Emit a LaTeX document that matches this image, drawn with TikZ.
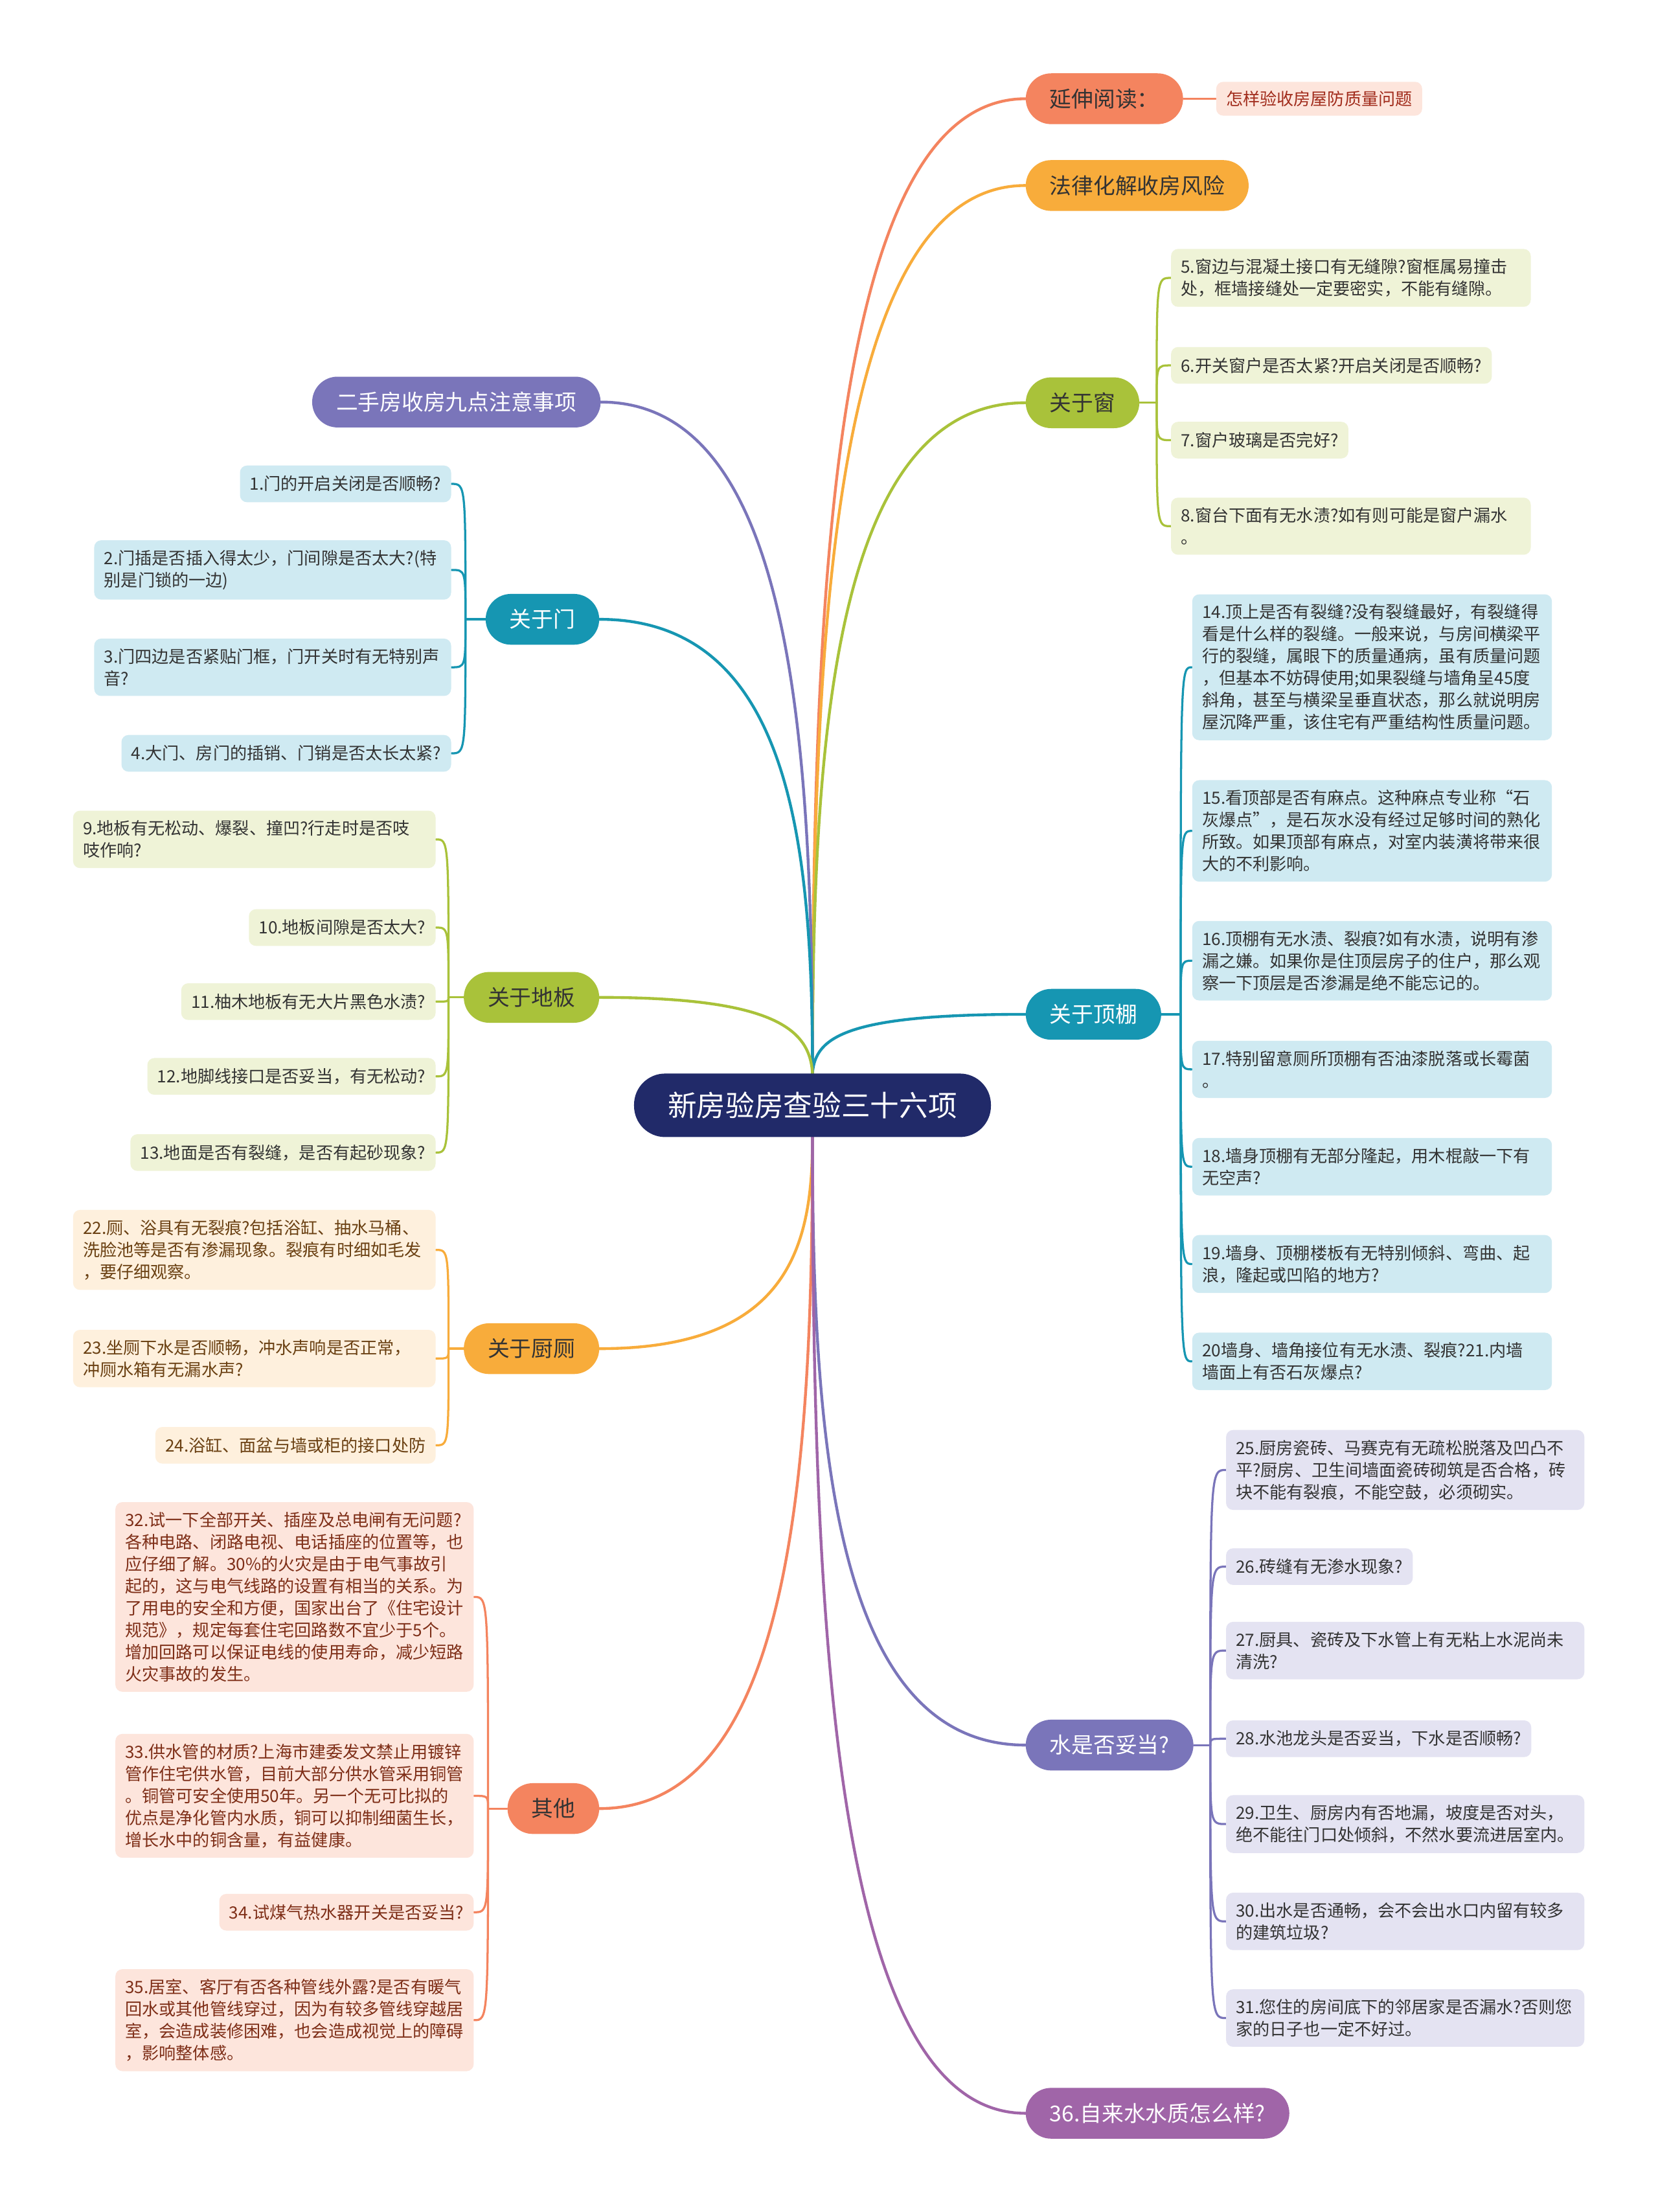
\documentclass[tikz,border=0pt]{standalone}
\usepackage{fontspec}
\setmainfont{Noto Sans CJK SC}
\usetikzlibrary{calc}
\definecolor{cNavy}{HTML}{212A69}
\definecolor{cCoral}{HTML}{F4845F}
\definecolor{cOrange}{HTML}{F8AC3B}
\definecolor{cGreen}{HTML}{A9C23A}
\definecolor{cTeal}{HTML}{1696B2}
\definecolor{cSlate}{HTML}{7A75BA}
\definecolor{cPurple}{HTML}{A065A8}
\definecolor{fGreen}{HTML}{EFF3D7}
\definecolor{fBlue}{HTML}{CFEAF2}
\definecolor{fLav}{HTML}{E4E3F2}
\definecolor{fPeach}{HTML}{FEF0DD}
\definecolor{fPink}{HTML}{FDE5DC}
\definecolor{tDark}{HTML}{333333}
\definecolor{tRed}{HTML}{7E2E17}
\definecolor{tBrown}{HTML}{6A4012}
\definecolor{tLink}{HTML}{A12C1C}
\pgfdeclarelayer{back}
\pgfdeclarelayer{conn}
\pgfsetlayers{back,conn,main}
\tikzset{
  leaf/.style={font=\fontsize{12}{15.6}\selectfont, align=left, rounded corners=5pt,
    inner xsep=7pt, inner ysep=7pt, minimum height=26pt, text=tDark},
  lfG/.style={leaf, fill=fGreen},
  lfB/.style={leaf, fill=fBlue},
  lfL/.style={leaf, fill=fLav},
  lfP/.style={leaf, fill=fPeach, text=tBrown},
  lfK/.style={leaf, fill=fPink, text=tRed},
  tw/.style={text width=#1pt},
  branch/.style={font=\fontsize{15.5}{18}\selectfont, rounded corners=18pt,
    minimum height=36pt, inner xsep=17pt, inner ysep=0pt},
  root/.style={font=\fontsize{20.5}{24}\selectfont, rounded corners=22pt, fill=cNavy,
    text=white, minimum height=45pt, inner xsep=24pt, inner ysep=0pt},
  mainline/.style={line width=2pt, line cap=round},
  kidline/.style={line width=1.5pt, line cap=round},
}
\begin{document}
\begin{tikzpicture}[x=1pt,y=-1pt]
\begin{pgfonlayer}{back}
\fill[white] (0,0) rectangle (1175,1568);
\end{pgfonlayer}
\useasboundingbox (0,0) rectangle (1175,1568);

% root
\node[root] (root) at (576,783.5) {新房验房查验三十六项};

% right branches
\node[branch, fill=cCoral, text=tDark, anchor=west] (ext) at (727,70) {延伸阅读：};
\node[branch, fill=cOrange, text=tDark, anchor=west] (law) at (727,131.5) {法律化解收房风险};
\node[branch, fill=cGreen, text=tDark, anchor=west] (win) at (727,285.5) {关于窗};
\node[branch, fill=cTeal, text=white, anchor=west] (ceil) at (727,719) {关于顶棚};
\node[branch, fill=cSlate, text=white, anchor=west] (water) at (727,1237) {水是否妥当?};
\node[branch, fill=cPurple, text=white, anchor=west] (tap) at (727,1498) {36.自来水水质怎么样?};

% left branches
\node[branch, fill=cSlate, text=white, anchor=east] (second) at (426,285) {二手房收房九点注意事项};
\node[branch, fill=cTeal, text=white, anchor=east] (door) at (425,439) {关于门};
\node[branch, fill=cGreen, text=tDark, anchor=east] (floor) at (425,707) {关于地板};
\node[branch, fill=cOrange, text=tDark, anchor=east] (wc) at (425,956) {关于厨厕};
\node[branch, fill=cCoral, text=tDark, anchor=east] (misc) at (425,1282) {其他};

% extended reading leaf
\node[leaf, fill=fPink, text=tLink, anchor=west, minimum height=24pt, inner ysep=5pt] (extl) at (862,70) {怎样验收房屋防质量问题};

% window leaves
\node[lfG, tw=241, anchor=west] (w5) at (830,197) {5.窗边与混凝土接口有无缝隙?窗框属易撞击\\处，框墙接缝处一定要密实，不能有缝隙。};
\node[lfG, anchor=west] (w6) at (830,259) {6.开关窗户是否太紧?开启关闭是否顺畅?};
\node[lfG, anchor=west] (w7) at (830,312) {7.窗户玻璃是否完好?};
\node[lfG, tw=241, anchor=west] (w8) at (830,373) {8.窗台下面有无水渍?如有则可能是窗户漏水\\。};

% ceiling leaves
\node[lfB, tw=241, anchor=west] (c14) at (845,473) {14.顶上是否有裂缝?没有裂缝最好，有裂缝得\\看是什么样的裂缝。一般来说，与房间横梁平\\行的裂缝，属眼下的质量通病，虽有质量问题\\，但基本不妨碍使用;如果裂缝与墙角呈45度\\斜角，甚至与横梁呈垂直状态，那么就说明房\\屋沉降严重，该住宅有严重结构性质量问题。};
\node[lfB, tw=241, anchor=west] (c15) at (845,589) {15.看顶部是否有麻点。这种麻点专业称“石\\灰爆点”，是石灰水没有经过足够时间的熟化\\所致。如果顶部有麻点，对室内装潢将带来很\\大的不利影响。};
\node[lfB, tw=241, anchor=west] (c16) at (845,681) {16.顶棚有无水渍、裂痕?如有水渍，说明有渗\\漏之嫌。如果你是住顶层房子的住户，那么观\\察一下顶层是否渗漏是绝不能忘记的。};
\node[lfB, tw=241, anchor=west] (c17) at (845,758) {17.特别留意厕所顶棚有否油漆脱落或长霉菌\\。};
\node[lfB, tw=241, anchor=west] (c18) at (845,827) {18.墙身顶棚有无部分隆起，用木棍敲一下有\\无空声?};
\node[lfB, tw=241, anchor=west] (c19) at (845,896) {19.墙身、顶棚楼板有无特别倾斜、弯曲、起\\浪，隆起或凹陷的地方?};
\node[lfB, tw=241, anchor=west] (c20) at (845,965) {20墙身、墙角接位有无水渍、裂痕?21.内墙\\墙面上有否石灰爆点?};

% water leaves
\node[lfL, tw=240, anchor=west] (a25) at (869,1042) {25.厨房瓷砖、马赛克有无疏松脱落及凹凸不\\平?厨房、卫生间墙面瓷砖砌筑是否合格，砖\\块不能有裂痕，不能空鼓，必须砌实。};
\node[lfL, anchor=west] (a26) at (869,1110.5) {26.砖缝有无渗水现象?};
\node[lfL, tw=240, anchor=west] (a27) at (869,1170) {27.厨具、瓷砖及下水管上有无粘上水泥尚未\\清洗?};
\node[lfL, anchor=west] (a28) at (869,1232.5) {28.水池龙头是否妥当，下水是否顺畅?};
\node[lfL, tw=240, anchor=west] (a29) at (869,1293) {29.卫生、厨房内有否地漏，坡度是否对头，\\绝不能往门口处倾斜，不然水要流进居室内。};
\node[lfL, tw=240, anchor=west] (a30) at (869,1362) {30.出水是否通畅，会不会出水口内留有较多\\的建筑垃圾?};
\node[lfL, tw=240, anchor=west] (a31) at (869,1430.5) {31.您住的房间底下的邻居家是否漏水?否则您\\家的日子也一定不好过。};

% door leaves
\node[lfB, anchor=east] (d1) at (320,343) {1.门的开启关闭是否顺畅?};
\node[lfB, tw=239, anchor=east] (d2) at (320,404) {2.门插是否插入得太少，门间隙是否太大?(特\\别是门锁的一边)};
\node[lfB, tw=239, anchor=east] (d3) at (320,473) {3.门四边是否紧贴门框，门开关时有无特别声\\音?};
\node[lfB, anchor=east] (d4) at (320,534) {4.大门、房门的插销、门销是否太长太紧?};

% floor leaves
\node[lfG, tw=243, anchor=east] (f9) at (309,595) {9.地板有无松动、爆裂、撞凹?行走时是否吱\\吱作响?};
\node[lfG, anchor=east] (f10) at (309,657.5) {10.地板间隙是否太大?};
\node[lfG, anchor=east] (f11) at (309,710) {11.柚木地板有无大片黑色水渍?};
\node[lfG, anchor=east] (f12) at (309,763) {12.地脚线接口是否妥当，有无松动?};
\node[lfG, anchor=east] (f13) at (309,817) {13.地面是否有裂缝，是否有起砂现象?};

% wc leaves
\node[lfP, tw=243, anchor=east] (k22) at (309,886) {22.厕、浴具有无裂痕?包括浴缸、抽水马桶、\\洗脸池等是否有渗漏现象。裂痕有时细如毛发\\，要仔细观察。};
\node[lfP, tw=243, anchor=east] (k23) at (309,963) {23.坐厕下水是否顺畅，冲水声响是否正常，\\冲厕水箱有无漏水声?};
\node[lfP, anchor=east] (k24) at (309,1024.5) {24.浴缸、面盆与墙或柜的接口处防};

% misc leaves
\node[lfK, tw=240, anchor=east] (m32) at (336,1132) {32.试一下全部开关、插座及总电闸有无问题?\\各种电路、闭路电视、电话插座的位置等，也\\应仔细了解。30\%的火灾是由于电气事故引\\起的，这与电气线路的设置有相当的关系。为\\了用电的安全和方便，国家出台了《住宅设计\\规范》，规定每套住宅回路数不宜少于5个。\\增加回路可以保证电线的使用寿命，减少短路\\火灾事故的发生。};
\node[lfK, tw=240, anchor=east] (m33) at (336,1273) {33.供水管的材质?上海市建委发文禁止用镀锌\\管作住宅供水管，目前大部分供水管采用铜管\\。铜管可安全使用50年。另一个无可比拟的\\优点是净化管内水质，铜可以抑制细菌生长，\\增长水中的铜含量，有益健康。};
\node[lfK, anchor=east] (m34) at (336,1355.5) {34.试煤气热水器开关是否妥当?};
\node[lfK, tw=240, anchor=east] (m35) at (336,1432) {35.居室、客厅有否各种管线外露?是否有暖气\\回水或其他管线穿过，因为有较多管线穿越居\\室，会造成装修困难，也会造成视觉上的障碍\\，影响整体感。};

% junctions
\coordinate (jW) at (820,285.5);
\coordinate (jC) at (837,719);
\coordinate (jA) at (858,1237);
\coordinate (jD) at (330,439);
\coordinate (jF) at (318,707);
\coordinate (jK) at (318,956);
\coordinate (jM) at (346,1282);

\begin{pgfonlayer}{conn}
% main connectors
\draw[mainline, cCoral] (root.north) .. controls (576,415) and (591,70) .. (ext.west);
\draw[mainline, cOrange] (root.north) .. controls (576,446) and (591,131.5) .. (law.west);
\draw[mainline, cGreen] (root.north) .. controls (576,523) and (591,285.5) .. (win.west);
\draw[mainline, cTeal] (root.north) .. controls (578,735) and (600,719) .. (ceil.west);
\draw[mainline, cSlate] (root.north) .. controls (576,523) and (561,285) .. (second.east);
\draw[mainline, cTeal] (root.north) .. controls (576,600) and (561,439) .. (door.east);
\draw[mainline, cGreen] (root.north) .. controls (574,730) and (550,707) .. (floor.east);
\draw[mainline, cOrange] (root.south) .. controls (576,881) and (561,956) .. (wc.east);
\draw[mainline, cCoral] (root.south) .. controls (576,1044) and (561,1282) .. (misc.east);
\draw[mainline, cSlate] (root.south) .. controls (576,1021) and (591,1237) .. (water.west);
\draw[mainline, cPurple] (root.south) .. controls (576,1152) and (591,1498) .. (tap.west);

\draw[kidline, cCoral] (ext.east) -- (extl.west);

% window
\draw[kidline, cGreen] (win.east) -- (jW);
\foreach \k in {w5,w6,w7,w8}
  \draw[kidline, cGreen] (jW) .. controls (jW |- \k.west) .. (\k.west);
% ceiling
\draw[kidline, cTeal] (ceil.east) -- (jC);
\foreach \k in {c14,c15,c16,c17,c18,c19,c20}
  \draw[kidline, cTeal] (jC) .. controls (jC |- \k.west) .. (\k.west);
% water
\draw[kidline, cSlate] (water.east) -- (jA);
\foreach \k in {a25,a26,a27,a28,a29,a30,a31}
  \draw[kidline, cSlate] (jA) .. controls (jA |- \k.west) .. (\k.west);
% door
\draw[kidline, cTeal] (door.west) -- (jD);
\foreach \k in {d1,d2,d3,d4}
  \draw[kidline, cTeal] (jD) .. controls (jD |- \k.east) .. (\k.east);
% floor
\draw[kidline, cGreen] (floor.west) -- (jF);
\foreach \k in {f9,f10,f11,f12,f13}
  \draw[kidline, cGreen] (jF) .. controls (jF |- \k.east) .. (\k.east);
% wc
\draw[kidline, cOrange] (wc.west) -- (jK);
\foreach \k in {k22,k23,k24}
  \draw[kidline, cOrange] (jK) .. controls (jK |- \k.east) .. (\k.east);
% misc
\draw[kidline, cCoral] (misc.west) -- (jM);
\foreach \k in {m32,m33,m34,m35}
  \draw[kidline, cCoral] (jM) .. controls (jM |- \k.east) .. (\k.east);
\end{pgfonlayer}
\end{tikzpicture}
\end{document}
